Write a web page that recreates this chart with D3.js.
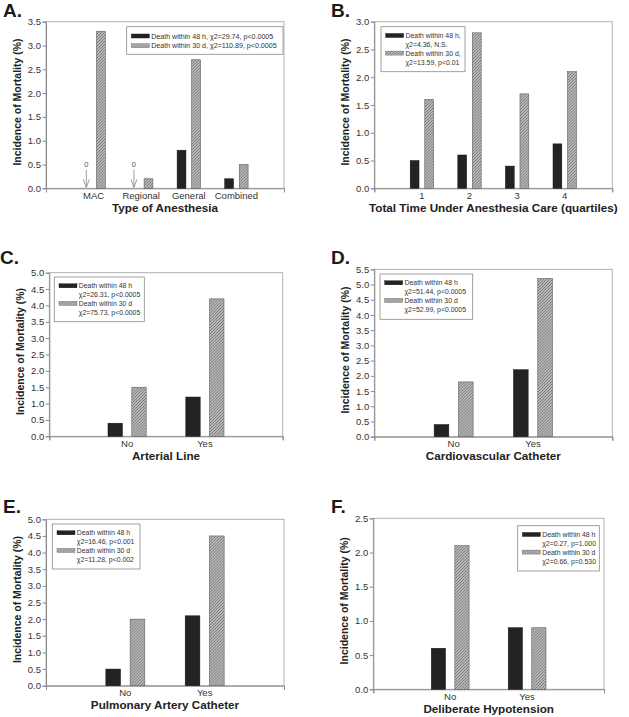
<!DOCTYPE html>
<html><head><meta charset="utf-8">
<script src="https://cdn.jsdelivr.net/npm/d3@7"></script>
<style>
body{margin:0;background:#fff;}
svg{display:block;font-family:"Liberation Sans",Arial,sans-serif;}
</style></head>
<body>
<svg id="chart" width="629" height="717"></svg>
<script>
// ---------- DATA ----------
const seriesNames = ["Death within 48 h", "Death within 30 d"];

const catsA = ["MAC", "Regional", "General", "Combined"];
const d48A = [0, 0, 0.8, 0.2];
const d30A = [3.3, 0.2, 2.7, 0.5];
const legendA = ["Death within 48 h, \u03c72=29.74, p<0.0005", "Death within 30 d, \u03c72=110.89, p<0.0005"];

const catsB = ["1", "2", "3", "4"];
const d48B = [0.5, 0.6, 0.4, 0.8];
const d30B = [1.6, 2.8, 1.7, 2.1];
const legendB = ["Death within 48 h,", "\u03c72=4.36, N.S.", "Death within 30 d,", "\u03c72=13.59, p<0.01"];

const catsC = ["No", "Yes"];
const d48C = [0.4, 1.2];
const d30C = [1.5, 4.2];
const legendC = ["Death within 48 h", "\u03c72=26.31, p<0.0005", "Death within 30 d", "\u03c72=75.73, p<0.0005"];

const catsD = ["No", "Yes"];
const d48D = [0.4, 2.2];
const d30D = [1.8, 5.2];
const legendD = ["Death within 48 h", "\u03c72=51.44, p<0.0005", "Death within 30 d", "\u03c72=52.99, p<0.0005"];

const catsE = ["No", "Yes"];
const d48E = [0.5, 2.1];
const d30E = [2.0, 4.5];
const legendE = ["Death within 48 h", "\u03c72=16.46, p<0.001", "Death within 30 d", "\u03c72=11.28, p<0.002"];

const catsF = ["No", "Yes"];
const d48F = [0.6, 0.9];
const d30F = [2.1, 0.9];
const legendF = ["Death within 48 h", "\u03c72=0.27, p=1.000", "Death within 30 d", "\u03c72=0.66, p=0.530"];

const yMax = [3.5, 3.0, 5.0, 5.5, 5.0, 2.5];
const letters = ["A.", "B.", "C.", "D.", "E.", "F."];
const xTitles = ["Type of Anesthesia", "Total Time Under Anesthesia Care (quartiles)", "Arterial Line",
                 "Cardiovascular Catheter", "Pulmonary Artery Catheter", "Deliberate Hypotension"];
const yTitle = "Incidence of Mortality (%)";

// ---------- LAYOUT ----------
const layouts = [
  {l:46, r:284, t:21.7, b:188.3, lx:3, ly:17, leg:{x:126.7, y:26.7, w:156.3, h:27.6, oneLine:true}},
  {l:374.3, r:612.3, t:21.7, b:188.3, lx:331, ly:17, leg:{x:381, y:26.7, w:84, h:45}},
  {l:49.3, r:282.7, t:272.7, b:436.3, lx:0, ly:264, leg:{x:54.3, y:277, w:90, h:44.7}},
  {l:374.3, r:612.3, t:269.3, b:436.7, lx:331, ly:264, leg:{x:380, y:274, w:92.7, h:45.3}},
  {l:46, r:284, t:519.3, b:685.7, lx:3, ly:512.5, leg:{x:52.3, y:524, w:87.7, h:45}},
  {l:373.3, r:604, t:518.3, b:689.3, lx:331, ly:512.5, leg:{x:517.7, y:525.7, w:81.6, h:45.3}}
];

const panels = [
  {cats:catsA, s1:d48A, s2:d30A, legend:legendA},
  {cats:catsB, s1:d48B, s2:d30B, legend:legendB},
  {cats:catsC, s1:d48C, s2:d30C, legend:legendC},
  {cats:catsD, s1:d48D, s2:d30D, legend:legendD},
  {cats:catsE, s1:d48E, s2:d30E, legend:legendE},
  {cats:catsF, s1:d48F, s2:d30F, legend:legendF}
];

const svg = d3.select("#chart");
const defs = svg.append("defs");
const P = 2.1;
const pat = defs.append("pattern").attr("id", "hatch").attr("patternUnits", "userSpaceOnUse")
  .attr("width", P).attr("height", P).attr("patternTransform", "rotate(45)");
pat.append("rect").attr("width", P).attr("height", P).attr("fill", "#b9b9b9");
pat.append("line").attr("x1", 0).attr("y1", 0).attr("x2", 0).attr("y2", P)
  .attr("stroke", "#5e5e5e").attr("stroke-width", 1.0);

const BLACK = "#232323";
const AXIS = "#8c8c8c";

panels.forEach((p, i) => {
  const L = layouts[i];
  const g = svg.append("g");
  const n = p.cats.length;
  const x = d3.scaleLinear().domain([0, n + 1]).range([L.l, L.r]);
  const y = d3.scaleLinear().domain([0, yMax[i]]).range([L.b, L.t]);
  const band = (L.r - L.l) / (n + 1);
  const bw = band * 0.185, off = band * 0.153;

  // frame (top/right)
  g.append("rect").attr("x", L.l).attr("y", L.t).attr("width", L.r - L.l).attr("height", L.b - L.t)
    .attr("fill", "none").attr("stroke", "#a8a8a8").attr("stroke-width", 0.9);

  // y axis
  const ticks = d3.range(0, yMax[i] + 0.001, 0.5);
  const yAxis = d3.axisLeft(y).tickValues(ticks).tickFormat(d3.format(".1f")).tickSize(3.5).tickPadding(1.5);
  const ya = g.append("g").attr("transform", `translate(${L.l},0)`).call(yAxis);
  ya.select(".domain").attr("stroke", AXIS);
  ya.selectAll(".tick line").attr("stroke", AXIS);
  ya.selectAll(".tick text").attr("fill", "#333").style("font-size", "9.5px").style("font-family", '"Liberation Sans",Arial,sans-serif');

  // x axis (category labels, end ticks)
  const xAxis = d3.axisBottom(x).tickValues([0, n + 1]).tickFormat("").tickSize(4);
  const xa = g.append("g").attr("transform", `translate(0,${L.b})`).call(xAxis);
  xa.select(".domain").attr("stroke", AXIS);
  xa.selectAll(".tick line").attr("stroke", AXIS);
  g.selectAll(".clab").data(p.cats).enter().append("text")
    .attr("x", (d, k) => x(k + 1)).attr("y", L.b + 10.5)
    .attr("text-anchor", "middle").style("font-size", "9.5px").attr("fill", "#333").text(d => d);

  // bars
  g.selectAll(".b1").data(p.s1).enter().append("rect")
    .attr("x", (d, k) => x(k + 1) - off - bw / 2).attr("width", bw)
    .attr("y", d => y(d)).attr("height", d => y(0) - y(d))
    .attr("fill", BLACK).attr("stroke", "#111").attr("stroke-width", 0.5)
    .attr("display", d => d > 0 ? null : "none");
  g.selectAll(".b2").data(p.s2).enter().append("rect")
    .attr("x", (d, k) => x(k + 1) + off - bw / 2).attr("width", bw)
    .attr("y", d => y(d)).attr("height", d => y(0) - y(d))
    .attr("fill", "url(#hatch)").attr("stroke", "#5e5e5e").attr("stroke-width", 0.6)
    .attr("display", d => d > 0 ? null : "none");

  // zero markers
  p.s1.forEach((d, k) => {
    if (d === 0) {
      const cx = x(k + 1) - off;
      g.append("text").attr("x", cx).attr("y", L.b - 21.5).attr("text-anchor", "middle")
        .style("font-size", "7.5px").attr("fill", "#555").text("0");
      g.append("line").attr("x1", cx).attr("x2", cx).attr("y1", L.b - 18.5).attr("y2", L.b - 1)
        .attr("stroke", "#777").attr("stroke-width", 0.7);
      g.append("path").attr("d", `M${cx - 3},${L.b - 9}L${cx},${L.b - 1}L${cx + 3},${L.b - 9}`)
        .attr("fill", "none").attr("stroke", "#777").attr("stroke-width", 0.7);
    }
  });

  // titles
  g.append("text").attr("x", (L.l + L.r) / 2).attr("y", L.b + 23.5).attr("text-anchor", "middle")
    .style("font-size", "11.7px").style("font-weight", "bold").attr("fill", "#222").text(xTitles[i]);
  g.append("text").attr("transform", `translate(${L.l - 29},${(L.t + L.b) / 2 - 3}) rotate(-90)`)
    .attr("text-anchor", "middle").attr("dominant-baseline", "central")
    .style("font-size", "10.5px").style("font-weight", "bold").attr("fill", "#222").text(yTitle);
  g.append("text").attr("x", L.lx).attr("y", L.ly)
    .style("font-size", "19px").style("font-weight", "bold").attr("fill", "#1a1a1a").text(letters[i]);

  // legend
  const lg = L.leg;
  const leg = g.append("g");
  leg.append("rect").attr("x", lg.x).attr("y", lg.y).attr("width", lg.w).attr("height", lg.h)
    .attr("fill", "#fff").attr("stroke", "#8a8a8a").attr("stroke-width", 0.8);
  const sx = lg.x + 4.7, tx = lg.x + 24.5;
  if (lg.oneLine) {
    const rows = [lg.y + 9.3, lg.y + 19];
    rows.forEach((ry, k) => {
      leg.append("rect").attr("x", sx).attr("y", ry - 2).attr("width", 18).attr("height", 4)
        .attr("fill", k === 0 ? BLACK : "url(#hatch)").attr("stroke", k === 0 ? "#111" : "#5e5e5e").attr("stroke-width", 0.4);
      leg.append("text").attr("x", tx).attr("y", ry + 2.6).style("font-size", "7.1px").attr("fill", "#333").text(p.legend[k]);
    });
  } else {
    const step = 8.8;
    p.legend.forEach((t, k) => {
      const ry = lg.y + 8.8 + k * step;
      if (k % 2 === 0) {
        leg.append("rect").attr("x", sx).attr("y", ry - 2).attr("width", 18).attr("height", 4)
          .attr("fill", k === 0 ? BLACK : "url(#hatch)").attr("stroke", k === 0 ? "#111" : "#5e5e5e").attr("stroke-width", 0.4);
      }
      leg.append("text").attr("x", tx).attr("y", ry + 2.6).style("font-size", "6.9px").attr("fill", "#333").text(t);
    });
  }
});
</script>
</body></html>
